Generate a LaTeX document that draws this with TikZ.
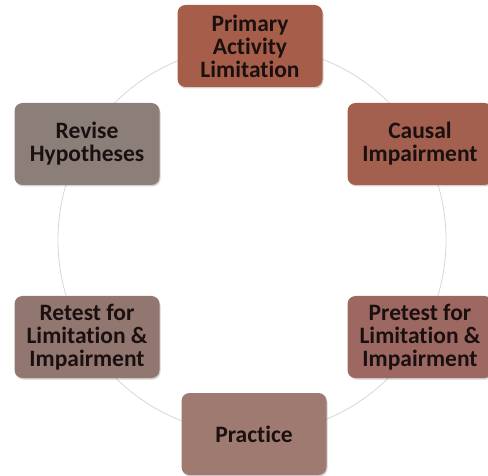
\documentclass[tikz,border=0pt]{standalone}
\usepackage{fontspec}
\setmainfont[Ligatures=NoCommon]{Carlito}
\usetikzlibrary{positioning,shadows}
\definecolor{rust}{HTML}{A65E4B}
\definecolor{rustb}{HTML}{A4604F}
\definecolor{rosy}{HTML}{9D6862}
\definecolor{mauve}{HTML}{9F7A70}
\definecolor{taupe}{HTML}{927670}
\definecolor{greyb}{HTML}{8C7F7A}
\definecolor{inkdark}{HTML}{1A1010}
\tikzset{
  stage/.style={rectangle, rounded corners=8pt, minimum width=145pt, minimum height=82pt,
    align=center, text=inkdark, inner sep=1pt, font=\bfseries\fontsize{23.5}{23}\selectfont,
    drop shadow={opacity=0.35, shadow xshift=1pt, shadow yshift=-1.5pt}},
  ring/.style={draw=black!16, line width=0.8pt}
}
\begin{document}
\begin{tikzpicture}[x=1pt,y=1pt]
\useasboundingbox (0,0) rectangle (488,-476);

% ring behind the boxes
\coordinate (hub) at (252,-240);
\draw[ring] (hub) circle (194);

% stages
\node[stage, fill=rust] (primary) at (250,-46) {Primary\\Activity\\Limitation};
\node[stage, fill=rustb] (causal) at (420,-144) {Causal\\Impairment};
\node[stage, fill=rosy] (pretest) at (420,-337) {Pretest for\\Limitation \&\\Impairment};
\node[stage, fill=mauve] (practice) at (254,-434) {Practice};
\node[stage, fill=taupe] (retest) at (87,-337) {Retest for\\Limitation \&\\Impairment};
\node[stage, fill=greyb] (revise) at (87,-144) {Revise\\Hypotheses};

\end{tikzpicture}
\end{document}
